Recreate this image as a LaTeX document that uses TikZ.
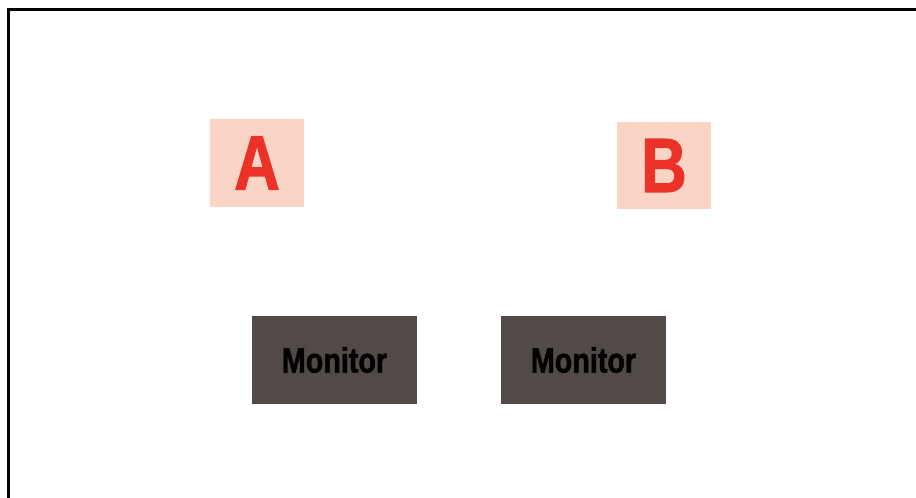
\documentclass[tikz,border=0pt]{standalone}
\usepackage{fontspec}
\setmainfont{Liberation Sans}
\newfontfamily\heavyfont[BoldFont={Liberation Sans Bold}, BoldFeatures={FakeBold=1.4}, FakeStretch=0.82]{Liberation Sans}
\definecolor{letterred}{HTML}{EC3127}
\definecolor{pinkbg}{HTML}{FAD5C6}
\definecolor{monbg}{HTML}{524A47}
\tikzset{
  letterbox/.style={fill=pinkbg, draw=none, minimum width=94pt, minimum height=88pt, inner sep=0pt,
    text=letterred, font=\fontsize{77}{77}\heavyfont\bfseries},
  monbox/.style={fill=monbg, draw=none, minimum width=165pt, minimum height=88pt, inner sep=0pt,
    text=black, font=\fontsize{35}{35}\heavyfont\bfseries},
  frameline/.style={line width=2.8pt, black}
}
\begin{document}
\begin{tikzpicture}[x=1pt,y=-1pt]
\useasboundingbox (0,0) rectangle (916,498);
\coordinate (fb) at (8.2,499);
\coordinate (fc) at (8.2,9.7);
\coordinate (fe) at (917,9.7);
\draw[frameline] (fb) -- (fc) -- (fe);
\node[letterbox] (A) at (257,163) {A};
\node[letterbox, minimum height=87pt] (B) at (664,165.5) {B};
\node[monbox] (M1) at (334.5,360) {Monitor};
\node[monbox] (M2) at (583.5,360) {Monitor};
\end{tikzpicture}
\end{document}
